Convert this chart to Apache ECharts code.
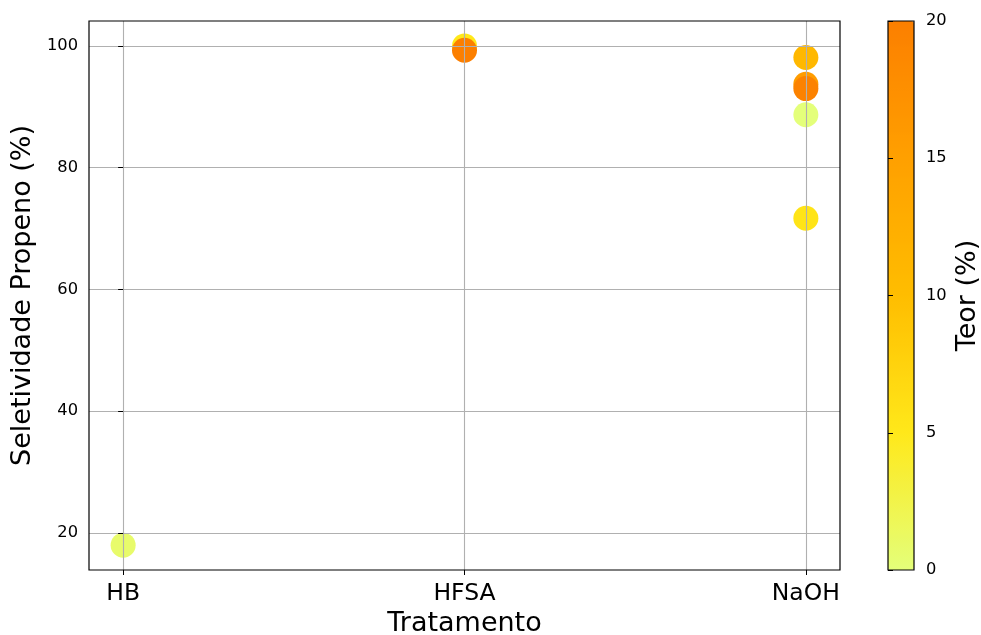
<!DOCTYPE html>
<html>
<head>
<meta charset="utf-8">
<script src="https://cdn.jsdelivr.net/npm/echarts@6/dist/echarts.min.js"></script>
<style>html,body{margin:0;padding:0;background:#fff;}#c{width:981px;height:635px;}</style>
</head>
<body>
<div id="c"></div>
<script>
// Data
const categories = ['HB', 'HFSA', 'NaOH'];
const pointCategory = [0, 1, 1, 2, 2, 2, 2, 2];
const selectivity = [18.0, 100.0, 99.3, 71.7, 88.7, 98.1, 93.7, 93.0];
const teor = [0.8, 5.0, 20.0, 5.5, 0.0, 10.9, 15.5, 19.5];
const yTicks = [20, 40, 60, 80, 100];
const cbTicks = [0, 5, 10, 15, 20];
const wistia = ['#e4ff7a', '#ffe81a', '#ffbd00', '#ffa000', '#fc7f00'];

const points = pointCategory.map((c, i) => [c, selectivity[i], teor[i]]);
const FONT = 'DejaVu Sans';

const chart = echarts.init(document.getElementById('c'), null, {renderer: 'canvas'});
chart.setOption({
  animation: false,
  backgroundColor: '#fff',
  grid: [
    {left: 89, top: 21, width: 751, height: 549, show: true, borderColor: '#000', borderWidth: 1.2, backgroundColor: 'transparent', z: 5, outerBoundsMode: 'none', containLabel: false},
    {left: 888, top: 21, width: 26, height: 549, show: true, borderColor: '#000', borderWidth: 1.2, backgroundColor: 'transparent', z: 10, outerBoundsMode: 'none', containLabel: false}
  ],
  xAxis: [
    {
      gridIndex: 0, type: 'value', min: -0.1, max: 2.1, z: 3,
      name: 'Tratamento', nameLocation: 'middle', nameGap: 39,
      nameTextStyle: {fontFamily: FONT, fontSize: 27, color: '#000'},
      axisLine: {show: false},
      axisTick: {show: true, inside: false, length: 5, customValues: [0, 1, 2], lineStyle: {color: '#000', width: 1}},
      axisLabel: {customValues: [0, 1, 2], margin: 12, fontFamily: FONT, fontSize: 23.5, color: '#000',
        formatter: v => categories[Math.round(v)] || ''},
      splitLine: {show: true, customValues: [0, 1, 2], lineStyle: {color: '#b0b0b0', width: 1.1}}
    },
    {gridIndex: 1, type: 'value', min: 0, max: 1, show: false}
  ],
  yAxis: [
    {
      gridIndex: 0, type: 'value', min: 13.92, max: 104.1, z: 3,
      name: 'Seletividade Propeno (%)', nameLocation: 'middle', nameGap: 37, nameRotate: 90,
      nameTextStyle: {fontFamily: FONT, fontSize: 27, color: '#000'},
      axisLine: {show: false},
      axisTick: {show: true, inside: false, length: 5, customValues: yTicks, lineStyle: {color: '#000', width: 1}},
      axisLabel: {customValues: yTicks, margin: 11, fontFamily: FONT, fontSize: 16.3, color: '#000'},
      splitLine: {show: true, customValues: yTicks, lineStyle: {color: '#b0b0b0', width: 1.1}}
    },
    {
      gridIndex: 1, type: 'value', min: 0, max: 20, position: 'right', z: 11,
      name: 'Teor (%)', nameLocation: 'middle', nameGap: 40, nameRotate: 90,
      nameTextStyle: {fontFamily: FONT, fontSize: 27, color: '#000'},
      axisLine: {show: false},
      axisTick: {show: true, inside: false, length: 5, customValues: cbTicks, lineStyle: {color: '#000', width: 1}},
      axisLabel: {customValues: cbTicks, margin: 12, fontFamily: FONT, fontSize: 16.3, color: '#000'},
      splitLine: {show: false}
    }
  ],
  visualMap: {
    type: 'continuous', min: 0, max: 20, dimension: 2, seriesIndex: 0,
    inRange: {color: wistia},
    left: 888, top: 21, itemWidth: 26, itemHeight: 549, padding: 0,
    calculable: false, realtime: false, hoverLink: false, text: null, showLabel: false,
    orient: 'vertical'
  },
  series: [{
    type: 'scatter', xAxisIndex: 0, yAxisIndex: 0, z: 2,
    symbol: 'circle', symbolSize: 25,
    itemStyle: {opacity: 1},
    emphasis: {disabled: true},
    data: points
  }]
});
</script>
</body>
</html>
